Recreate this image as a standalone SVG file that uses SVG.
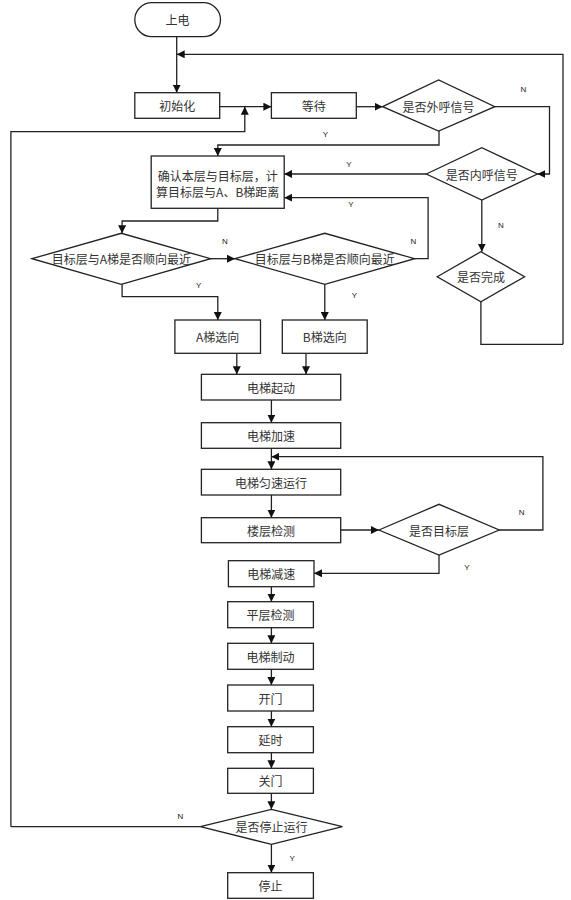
<svg xmlns="http://www.w3.org/2000/svg" width="571" height="900" viewBox="0 0 571 900">
<defs>
<marker id="ah" viewBox="0 0 10 10" refX="10" refY="5" markerWidth="8" markerHeight="8" markerUnits="userSpaceOnUse" orient="auto">
<path d="M0,0 L10,5 L0,10 Z" fill="#111"/>
</marker>
<style>
.n{fill:#fff;stroke:#222;stroke-width:1.3}
.t{font-family:"Noto Sans CJK SC","Noto Sans",sans-serif;font-size:12px;fill:#333;text-anchor:middle;dominant-baseline:central}
.c{fill:none;stroke:#222;stroke-width:1.3}
.l{font-family:"Liberation Sans",Arial,sans-serif;font-size:8px;fill:#222;text-anchor:middle;dominant-baseline:central}
</style>
</defs>
<rect width="571" height="900" fill="#fff"/>
<g id="connectors">
<path class="c" d="M176.7,36.7 V92.7" marker-end="url(#ah)"/>
<path class="c" d="M563,344.3 V54.3 H176.7" marker-end="url(#ah)"/>
<path class="c" d="M219.7,106.7 H271.4" marker-end="url(#ah)"/>
<path class="c" d="M10.9,826.7 V131.7 H244.8 V106.7" marker-end="url(#ah)"/>
<path class="c" d="M356.3,106.7 H382.6" marker-end="url(#ah)"/>
<path class="c" d="M494.8,106.7 H549.5 V174 H537.4" marker-end="url(#ah)"/>
<path class="c" d="M439,131 V145 H217.8 V156" marker-end="url(#ah)"/>
<path class="c" d="M426.3,174 H284.2" marker-end="url(#ah)"/>
<path class="c" d="M481.8,200 V251.7" marker-end="url(#ah)"/>
<path class="c" d="M480.9,301.7 V344.3 H563"/>
<path class="c" d="M217.8,208.3 V221 H122.1 V233.3" marker-end="url(#ah)"/>
<path class="c" d="M210.6,258.7 H235" marker-end="url(#ah)"/>
<path class="c" d="M414.6,258.7 H428.1 V197.7 H284.2" marker-end="url(#ah)"/>
<path class="c" d="M122.1,284.3 V296.7 H217.8 V320" marker-end="url(#ah)"/>
<path class="c" d="M324.8,284.3 V320" marker-end="url(#ah)"/>
<path class="c" d="M236.8,353.3 V374.3" marker-end="url(#ah)"/>
<path class="c" d="M306,353.3 V374.3" marker-end="url(#ah)"/>
<path class="c" d="M271.4,400 V422.7" marker-end="url(#ah)"/>
<path class="c" d="M271.4,448.3 V469.3" marker-end="url(#ah)"/>
<path class="c" d="M499.2,530 H542.9 V456.7 H271.4" marker-end="url(#ah)"/>
<path class="c" d="M271.4,495 V517.7" marker-end="url(#ah)"/>
<path class="c" d="M340.7,530 H378.9" marker-end="url(#ah)"/>
<path class="c" d="M439,555 V573.3 H314" marker-end="url(#ah)"/>
<path class="c" d="M271.4,586.7 V601.7" marker-end="url(#ah)"/>
<path class="c" d="M271.4,627.7 V643.3" marker-end="url(#ah)"/>
<path class="c" d="M271.4,669.3 V685" marker-end="url(#ah)"/>
<path class="c" d="M271.4,711 V726.7" marker-end="url(#ah)"/>
<path class="c" d="M271.4,752.7 V768.3" marker-end="url(#ah)"/>
<path class="c" d="M271.4,793.3 V809.3" marker-end="url(#ah)"/>
<path class="c" d="M200.3,826.7 H10.9"/>
<path class="c" d="M271.4,844.3 V872.7" marker-end="url(#ah)"/>
<text class="l" x="523.5" y="89">N</text>
<text class="l" x="325.4" y="134.3">Y</text>
<text class="l" x="349" y="164.3">Y</text>
<text class="l" x="500.9" y="225.7">N</text>
<text class="l" x="350.8" y="204.3">Y</text>
<text class="l" x="224.8" y="241.7">N</text>
<text class="l" x="413.5" y="241">N</text>
<text class="l" x="198.6" y="285">Y</text>
<text class="l" x="354.4" y="295">Y</text>
<text class="l" x="521.7" y="512.3">N</text>
<text class="l" x="467" y="567.7">Y</text>
<text class="l" x="180.3" y="816">N</text>
<text class="l" x="292.2" y="858.3">Y</text>
</g>
<g id="start"><rect class="n" x="134.8" y="2.7" width="85.7" height="34" rx="17"/><text class="t" x="177.6" y="19.7">上电</text></g>
<g id="init"><rect class="n" x="134.8" y="92.7" width="84.9" height="25.6"/><text class="t" x="177.2" y="105.5">初始化</text></g>
<g id="wait"><rect class="n" x="271.4" y="92.7" width="84.9" height="25.6"/><text class="t" x="313.8" y="105.5">等待</text></g>
<g id="outer"><polygon class="n" points="382.6,106.7 438.6,80 494.8,106.7 438.6,131"/><text class="t" x="438.6" y="106">是否外呼信号</text></g>
<g id="inner"><polygon class="n" points="426.3,174 481.8,147.7 537.4,174 481.8,200"/><text class="t" x="481.8" y="174">是否内呼信号</text></g>
<g id="done"><polygon class="n" points="437.2,276.7 480.9,251.7 524.6,276.7 480.9,301.7"/><text class="t" x="480.9" y="276.7">是否完成</text></g>
<g id="confirm"><rect class="n" x="151.2" y="156" width="133" height="52.3"/><text class="t" x="217.7" y="175">确认本层与目标层，计</text><text class="t" x="217.7" y="191.7">算目标层与A、B梯距离</text></g>
<g id="diamA"><polygon class="n" points="32,258.7 121.3,233.3 210.6,258.7 121.3,284.3"/><text class="t" x="121.3" y="258.7">目标层与A梯是否顺向最近</text></g>
<g id="diamB"><polygon class="n" points="235,258.7 324.8,233.3 414.6,258.7 324.8,284.3"/><text class="t" x="324.8" y="258.7">目标层与B梯是否顺向最近</text></g>
<g id="selA"><rect class="n" x="174.9" y="320" width="85.6" height="33.3"/><text class="t" x="217.7" y="336.7">A梯选向</text></g>
<g id="selB"><rect class="n" x="282.3" y="320" width="84.9" height="33.3"/><text class="t" x="324.8" y="336.7">B梯选向</text></g>
<g id="startup"><rect class="n" x="201.4" y="374.3" width="139.3" height="25.7"/><text class="t" x="271.1" y="387.2">电梯起动</text></g>
<g id="accel"><rect class="n" x="201.4" y="422.7" width="139.3" height="25.6"/><text class="t" x="271.1" y="435.5">电梯加速</text></g>
<g id="run"><rect class="n" x="201.4" y="469.3" width="139.3" height="25.7"/><text class="t" x="271.1" y="482.2">电梯匀速运行</text></g>
<g id="floor"><rect class="n" x="201.4" y="517.7" width="139.3" height="25"/><text class="t" x="271.1" y="530.2">楼层检测</text></g>
<g id="target"><polygon class="n" points="378.9,530 439,504.3 499.2,530 439,555"/><text class="t" x="439" y="530">是否目标层</text></g>
<g id="decel"><rect class="n" x="228.4" y="560.7" width="85.6" height="26"/><text class="t" x="271.2" y="573.7">电梯减速</text></g>
<g id="level"><rect class="n" x="227.7" y="601.7" width="85.7" height="26"/><text class="t" x="270.5" y="614.7">平层检测</text></g>
<g id="brake"><rect class="n" x="227.7" y="643.3" width="85.7" height="26"/><text class="t" x="270.5" y="656.3">电梯制动</text></g>
<g id="open"><rect class="n" x="227.7" y="685" width="85.7" height="26"/><text class="t" x="270.5" y="698">开门</text></g>
<g id="delay"><rect class="n" x="227.7" y="726.7" width="85.7" height="26"/><text class="t" x="270.5" y="739.7">延时</text></g>
<g id="close"><rect class="n" x="227.7" y="768.3" width="85.7" height="25"/><text class="t" x="270.5" y="780.8">关门</text></g>
<g id="stopq"><polygon class="n" points="200.3,826.7 271.4,809.3 342.4,826.7 271.4,844.3"/><text class="t" x="271.4" y="826.7">是否停止运行</text></g>
<g id="stop"><rect class="n" x="227.7" y="872.7" width="85.7" height="25.6"/><text class="t" x="270.5" y="885.5">停止</text></g>
</svg>
